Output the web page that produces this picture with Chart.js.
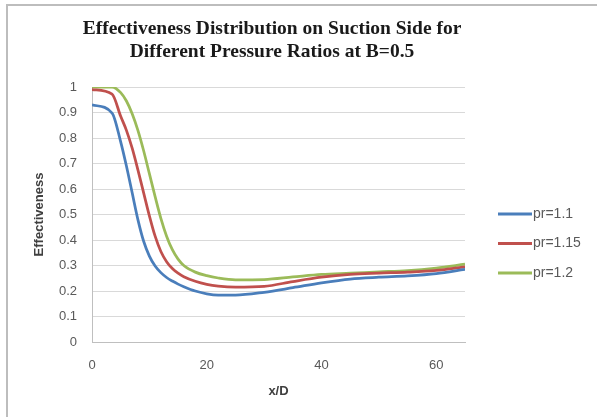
<!DOCTYPE html>
<html>
<head>
<meta charset="utf-8">
<script src="https://cdn.jsdelivr.net/npm/chart.js@4"></script>
<style>
  html, body { margin: 0; padding: 0; background: #fff; }
  #wrap { width: 597px; height: 417px; }
</style>
</head>
<body>
<div id="wrap"><canvas id="chart" width="597" height="417"></canvas></div>
<script>
// x/D positions
const xPositions = [0, 3.5, 5, 6, 7, 8, 9, 10, 11, 12, 13, 14, 15, 16, 18, 20, 22, 25, 30, 35, 40, 45, 50, 55, 60, 65];
// effectiveness per pressure ratio
const pr11 = [0.93, 0.898, 0.785, 0.69, 0.585, 0.48, 0.395, 0.337, 0.298, 0.272, 0.253, 0.239, 0.227, 0.217, 0.200, 0.189, 0.184, 0.184, 0.195, 0.213, 0.232, 0.247, 0.254, 0.259, 0.268, 0.285];
const pr115 = [0.99, 0.972, 0.885, 0.83, 0.76, 0.675, 0.585, 0.495, 0.415, 0.355, 0.315, 0.288, 0.27, 0.256, 0.238, 0.226, 0.219, 0.215, 0.218, 0.237, 0.254, 0.265, 0.27, 0.274, 0.281, 0.295];
const pr12 = [1.0, 1.0, 0.978, 0.945, 0.895, 0.83, 0.75, 0.66, 0.57, 0.485, 0.415, 0.362, 0.325, 0.30, 0.274, 0.26, 0.251, 0.244, 0.245, 0.255, 0.265, 0.27, 0.275, 0.28, 0.29, 0.305];
const seriesLabels = ['pr=1.1', 'pr=1.15', 'pr=1.2'];
const seriesColors = ['#4a7ebb', '#c0504d', '#9bbb59'];
const xTicks = [0, 20, 40, 60];
const titleLines = ['Effectiveness Distribution on Suction Side for', 'Different Pressure Ratios at B=0.5'];

const toPoints = ys => xPositions.map((x, i) => ({ x: x, y: ys[i] }));

// background, frame, title and legend drawn by hand
const decorations = {
    id: 'decorations',
    beforeDraw(chart) {
        const ctx = chart.ctx;
        ctx.save();
        ctx.fillStyle = '#fff';
        ctx.fillRect(0, 0, chart.width, chart.height);
        ctx.strokeStyle = '#bdbdbd';
        ctx.lineWidth = 2;
        ctx.strokeRect(7, 5, chart.width + 10, chart.height + 10);
        ctx.restore();
    },
    afterDraw(chart) {
        const ctx = chart.ctx;
        ctx.save();
        ctx.fillStyle = '#1a1a1a';
        ctx.font = 'bold 19.5px "Liberation Serif"';
        ctx.textAlign = 'center';
        ctx.textBaseline = 'middle';
        titleLines.forEach((t, i) => ctx.fillText(t, 272, 29 + i * 23));

        // legend
        ctx.font = '14px "Liberation Sans"';
        ctx.textAlign = 'left';
        chart.data.datasets.forEach((ds, i) => {
            const y = 214 + i * 29.5;
            ctx.strokeStyle = ds.borderColor;
            ctx.lineWidth = 3;
            ctx.beginPath();
            ctx.moveTo(498, y);
            ctx.lineTo(532, y);
            ctx.stroke();
            ctx.fillStyle = '#595959';
            ctx.fillText(ds.label, 533, y);
        });
        ctx.restore();
    }
};

new Chart(document.querySelector('#chart'), {
    type: 'line',
    data: {
        datasets: [pr11, pr115, pr12].map((ys, i) => ({
            label: seriesLabels[i],
            data: toPoints(ys),
            borderColor: seriesColors[i],
            borderWidth: 2.75,
            pointRadius: 0,
            cubicInterpolationMode: 'monotone',
            fill: false
        }))
    },
    options: {
        responsive: false,
        animation: false,
        layout: { padding: { top: 87, left: 0, right: 132, bottom: 0 } },
        scales: {
            x: {
                type: 'linear',
                min: 0,
                max: 65,
                afterBuildTicks: scale => {
                    scale.ticks = xTicks.map(v => ({ value: v }));
                },
                afterFit: scale => { scale.height = 75; },
                grid: { display: false, drawTicks: false },
                border: { color: '#bfbfbf' },
                ticks: {
                    padding: 16,
                    color: '#595959',
                    font: { family: 'Liberation Sans', size: 13 }
                },
                title: {
                    display: true,
                    text: 'x/D',
                    color: '#404040',
                    padding: { top: 0, bottom: 18 },
                    font: { family: 'Liberation Sans', size: 13, weight: 'bold' }
                }
            },
            y: {
                min: 0,
                max: 1,
                afterFit: scale => { scale.width = 92; },
                grid: { color: '#d9d9d9', drawTicks: false },
                border: { color: '#bfbfbf' },
                ticks: {
                    stepSize: 0.1,
                    padding: 15,
                    color: '#595959',
                    font: { family: 'Liberation Sans', size: 13 },
                    callback: v => String(Number(v.toFixed(1)))
                },
                title: {
                    display: true,
                    text: 'Effectiveness',
                    color: '#404040',
                    padding: { top: 32, bottom: 0 },
                    font: { family: 'Liberation Sans', size: 13, weight: 'bold' }
                }
            }
        },
        plugins: {
            legend: { display: false },
            title: { display: false },
            tooltip: { enabled: false }
        }
    },
    plugins: [decorations]
});
</script>
</body>
</html>
